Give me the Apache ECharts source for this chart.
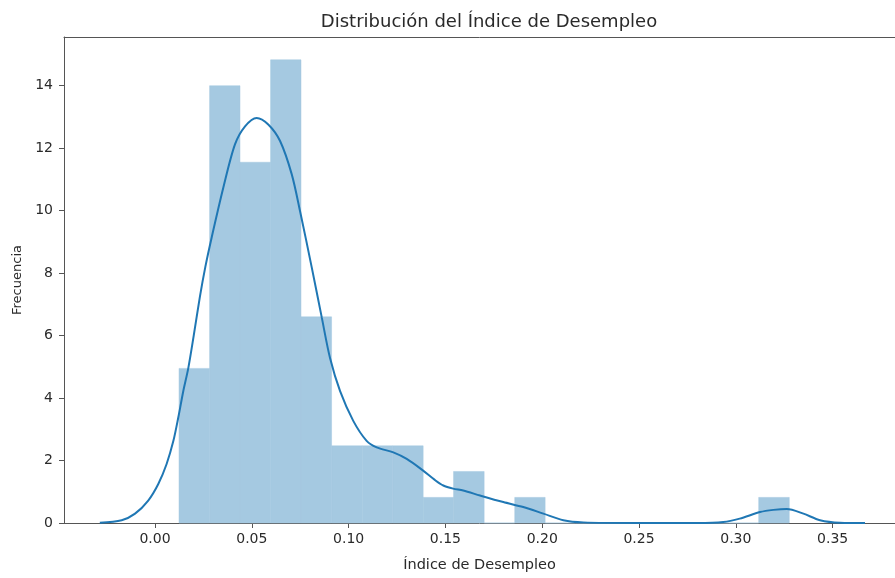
<!DOCTYPE html>
<html>
<head>
<meta charset="utf-8">
<script src="https://cdn.jsdelivr.net/npm/echarts@6/dist/echarts.min.js"></script>
<style>html,body{margin:0;padding:0;background:#fff}#c{width:895px;height:578px}</style>
</head>
<body>
<div id="c"></div>
<script>
// Histogram bin edges
var binEdges = [0.0124, 0.0282, 0.0439, 0.0597, 0.0754, 0.0912, 0.1070, 0.1227, 0.1385, 0.1542, 0.1700,
                0.1858, 0.2015, 0.2173, 0.2330, 0.2488, 0.2646, 0.2803, 0.2961, 0.3118, 0.3276];
// Bar heights (density)
var binHeights = [4.95, 14.0, 11.55, 14.83, 6.6, 2.47, 2.47, 2.47, 0.82, 1.65, 0, 0.82, 0, 0, 0, 0, 0, 0, 0, 0.82];
// KDE curve points
var kdeX = [-0.0285, -0.0172, -0.0103, -0.0035, 0.0017, 0.0060, 0.0095, 0.0120, 0.0146, 0.0172,
            0.0200, 0.0232, 0.0260, 0.0293, 0.0353, 0.0413, 0.0465, 0.0525, 0.0585, 0.0646,
            0.0706, 0.0749, 0.0809, 0.0861, 0.0904, 0.0956, 0.1024, 0.1093, 0.1145, 0.1231,
            0.1300, 0.1380, 0.1445, 0.1489, 0.1540, 0.1592, 0.1679, 0.1799, 0.1902, 0.2006,
            0.2109, 0.2212, 0.2500, 0.2800, 0.2935, 0.3020, 0.3125, 0.3194, 0.3263, 0.3349,
            0.3435, 0.3538, 0.3667];
var kdeY = [0.01, 0.09, 0.30, 0.72, 1.25, 1.89, 2.63, 3.37, 4.22, 4.96,
            6.00, 7.25, 8.20, 9.15, 10.74, 12.12, 12.70, 12.97, 12.76, 12.23,
            11.17, 9.99, 8.20, 6.59, 5.28, 4.22, 3.27, 2.63, 2.42, 2.26,
            2.05, 1.70, 1.38, 1.20, 1.10, 1.04, 0.88, 0.67, 0.51, 0.30,
            0.09, 0.02, 0.00, 0.00, 0.03, 0.14, 0.35, 0.42, 0.45, 0.30,
            0.09, 0.01, 0.00];
var xTicks = [0, 0.05, 0.10, 0.15, 0.20, 0.25, 0.30, 0.35];
var yTicks = [0, 2, 4, 6, 8, 10, 12, 14];

var titleText = 'Distribución del Índice de Desempleo';
var xName = 'Índice de Desempleo';
var yName = 'Frecuencia';

var histData = binHeights.map(function (h, i) { return [binEdges[i], binEdges[i + 1], h]; });
var kdeData = kdeX.map(function (x, i) { return [x, kdeY[i]]; });

var FONT = 'DejaVu Sans';
var TXT = '#2a2a2a';
var SPINE = '#555';
var XMIN = -0.047, XMAX = 0.3822;
var chart = echarts.init(document.getElementById('c'), null, { renderer: 'canvas' });
chart.setOption({
  animation: false,
  backgroundColor: '#fff',
  title: {
    text: titleText, left: 484, top: 8, textAlign: 'center',
    textStyle: { fontFamily: FONT, fontSize: 18, fontWeight: 'normal', color: TXT }
  },
  grid: { left: 64, top: 37, right: 0, bottom: 52, show: false, containLabel: false },
  xAxis: [{
    type: 'value', min: XMIN, max: XMAX, position: 'bottom',
    name: xName, nameLocation: 'middle', nameGap: 35,
    nameTextStyle: { fontFamily: FONT, fontSize: 14.5, color: TXT },
    axisLine: { show: true, onZero: false, lineStyle: { color: SPINE, width: 1 } },
    axisTick: { show: true, length: 5, lineStyle: { color: SPINE }, customValues: xTicks },
    axisLabel: { fontFamily: FONT, fontSize: 14, color: TXT, margin: 9, customValues: xTicks,
      formatter: function (v) { return v.toFixed(2); } },
    splitLine: { show: false }
  }, {
    type: 'value', min: XMIN, max: XMAX, position: 'top',
    axisLine: { show: true, onZero: false, lineStyle: { color: SPINE, width: 1 } },
    axisTick: { show: false }, axisLabel: { show: false }, splitLine: { show: false }
  }],
  yAxis: {
    type: 'value', min: 0, max: 15.56,
    name: yName, nameLocation: 'middle', nameGap: 40, nameRotate: 90,
    nameTextStyle: { fontFamily: FONT, fontSize: 13, color: TXT },
    axisLine: { show: true, onZero: false, lineStyle: { color: SPINE, width: 1 } },
    axisTick: { show: true, length: 5, lineStyle: { color: SPINE }, customValues: yTicks },
    axisLabel: { fontFamily: FONT, fontSize: 14, color: TXT, margin: 11, customValues: yTicks },
    splitLine: { show: false }
  },
  series: [
    {
      type: 'custom',
      xAxisIndex: 0,
      data: histData,
      encode: { x: [0, 1], y: 2 },
      renderItem: function (params, api) {
        var p0 = api.coord([api.value(0), api.value(2)]);
        var p1 = api.coord([api.value(1), 0]);
        return {
          type: 'rect',
          shape: { x: p0[0], y: p0[1], width: p1[0] - p0[0], height: p1[1] - p0[1] },
          style: { fill: 'rgb(165,201,225)', stroke: 'rgb(165,201,225)', lineWidth: 0.5 }
        };
      },
      z: 1
    },
    {
      type: 'line',
      xAxisIndex: 0,
      data: kdeData,
      smooth: 0.3,
      showSymbol: false,
      lineStyle: { color: '#1f77b4', width: 2 },
      z: 3
    }
  ]
});
</script>
</body>
</html>
